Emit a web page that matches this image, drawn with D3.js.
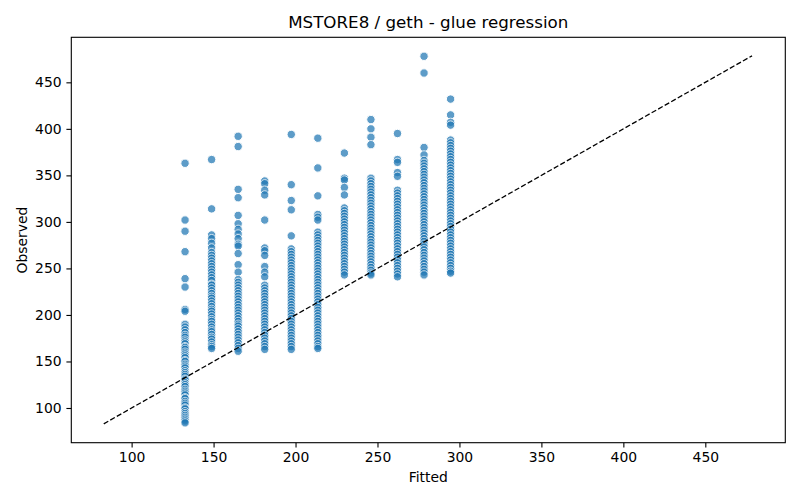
<!DOCTYPE html>
<html>
<head>
<meta charset="utf-8">
<script src="https://cdn.jsdelivr.net/npm/d3@7"></script>
<style>
  body { margin: 0; background: #fff; }
  text { font-family: "DejaVu Sans", sans-serif; fill: #000; }
</style>
</head>
<body>
<svg width="800" height="500"></svg>
<script>
var fitted = [132.6, 148.8, 165.0, 181.2, 197.4, 213.6, 229.8, 246.0, 262.2, 278.4, 294.6];
var observed = [
  [363, 302, 290, 268, 239, 230, 206, 204, 190, 187, 184, 181, 178, 176, 173, 171, 169, 166, 165, 163, 160, 158, 156, 154, 151, 150, 147, 145, 143, 140, 138, 136, 134, 131, 130, 127, 125, 123, 120, 118, 116, 114, 111, 110, 107, 105, 103, 100, 99, 96, 94, 92, 90, 88, 86, 84],
  [367, 314, 286, 282, 277, 272, 267, 264, 261, 258, 255, 252, 249, 246, 243, 240, 237, 233, 232, 229, 226, 223, 220, 218, 215, 212, 209, 206, 204, 201, 198, 195, 193, 190, 187, 184, 182, 179, 176, 174, 171, 168, 166, 164],
  [392, 381, 335, 326, 307, 298, 292, 287, 282, 276, 274, 266, 254, 246, 238, 235, 232, 229, 226, 223, 220, 217, 214, 211, 208, 205, 202, 199, 196, 193, 190, 188, 185, 182, 179, 176, 173, 170, 167, 164, 161],
  [344, 341, 334, 329, 302, 272, 269, 264, 252, 246, 241, 232, 229, 226, 223, 220, 217, 214, 211, 208, 205, 202, 199, 196, 193, 190, 187, 184, 181, 178, 175, 172, 169, 166, 163],
  [394, 340, 323, 313, 285, 271, 268, 265, 262, 259, 256, 253, 250, 247, 244, 241, 238, 235, 232, 229, 226, 223, 220, 217, 214, 211, 208, 205, 202, 199, 196, 193, 190, 187, 184, 181, 178, 175, 172, 169, 166, 163],
  [390, 358, 328, 308, 305, 302, 289, 286, 283, 280, 277, 274, 271, 268, 265, 262, 259, 256, 253, 250, 247, 244, 241, 238, 235, 232, 229, 226, 223, 220, 217, 214, 211, 208, 205, 202, 199, 196, 193, 190, 187, 184, 181, 178, 175, 172, 169, 166, 164],
  [374, 347, 345, 337, 329, 315, 312, 309, 306, 303, 300, 297, 294, 291, 288, 285, 282, 279, 276, 273, 270, 267, 264, 261, 258, 255, 252, 249, 246, 243],
  [410, 400, 391, 383, 347, 344, 341, 338, 335, 332, 329, 326, 323, 320, 317, 314, 311, 308, 305, 302, 299, 296, 293, 290, 287, 284, 281, 278, 275, 272, 269, 266, 263, 260, 257, 254, 251, 248, 245, 243],
  [395, 367, 364, 353, 349, 334, 331, 328, 325, 322, 319, 316, 313, 310, 307, 304, 301, 298, 295, 292, 289, 286, 283, 280, 277, 274, 271, 268, 265, 262, 259, 256, 253, 250, 247, 244, 241],
  [478, 460, 380, 372, 366, 363, 360, 357, 354, 351, 348, 345, 342, 339, 336, 333, 330, 327, 324, 321, 318, 315, 312, 309, 306, 303, 300, 297, 294, 291, 288, 285, 282, 279, 276, 273, 270, 267, 264, 261, 258, 255, 252, 249, 246, 243],
  [432, 415, 407, 404, 388, 385, 382, 379, 376, 373, 370, 367, 364, 361, 358, 355, 352, 349, 346, 343, 340, 337, 334, 331, 328, 325, 322, 319, 316, 313, 310, 307, 304, 301, 298, 295, 292, 289, 286, 283, 280, 277, 274, 271, 268, 265, 262, 259, 256, 253, 250, 247, 245]
];
var diagLine = [83, 478.5];
var xTicks = [100, 150, 200, 250, 300, 350, 400, 450];
var yTicks = [100, 150, 200, 250, 300, 350, 400, 450];
var title = "MSTORE8 / geth - glue regression";

var svg = d3.select("svg"),
    plotL = 71.3, plotR = 785.3, plotT = 37.3, plotB = 442.7;

var x = d3.scaleLinear().domain([63.2, 498.8]).range([plotL, plotR]);
var y = d3.scaleLinear().domain([62.7, 498.4]).range([plotB, plotT]);

var points = [];
fitted.forEach(function(f, i) {
  observed[i].forEach(function(o) { points.push({f: f, o: o}); });
});

svg.append("g").selectAll("circle").data(points).enter()
  .append("circle")
  .attr("cx", function(d) { return x(d.f); })
  .attr("cy", function(d) { return y(d.o); })
  .attr("r", 4.2)
  .attr("fill", "#1f77b4")
  .attr("stroke", "#fff")
  .attr("stroke-width", 1)
  .attr("opacity", 0.72);

svg.append("line")
  .attr("x1", x(diagLine[0])).attr("y1", y(diagLine[0]))
  .attr("x2", x(diagLine[1])).attr("y2", y(diagLine[1]))
  .attr("stroke", "#000").attr("stroke-width", 1.3)
  .attr("stroke-dasharray", "5.2,2.3");

var xAxis = svg.append("g").attr("transform", "translate(0," + plotB + ")")
  .call(d3.axisBottom(x).tickValues(xTicks).tickSize(4.9).tickPadding(4.8));
var yAxis = svg.append("g").attr("transform", "translate(" + plotL + ",0)")
  .call(d3.axisLeft(y).tickValues(yTicks).tickSize(4.9).tickPadding(4.8));
[xAxis, yAxis].forEach(function(g) {
  g.select(".domain").remove();
  g.selectAll("line").attr("stroke", "#000").attr("stroke-width", 1.1);
  g.selectAll("text").attr("font-size", "13.9px").attr("font-family", "DejaVu Sans");
});

svg.append("rect")
  .attr("x", plotL).attr("y", plotT)
  .attr("width", plotR - plotL).attr("height", plotB - plotT)
  .attr("fill", "none").attr("stroke", "#000").attr("stroke-width", 1.1);

svg.append("text").attr("x", (plotL + plotR) / 2).attr("y", 28)
  .attr("text-anchor", "middle").attr("font-size", "16.7px").text(title);
svg.append("text").attr("x", (plotL + plotR) / 2).attr("y", 482)
  .attr("text-anchor", "middle").attr("font-size", "13.9px").text("Fitted");
svg.append("text").attr("transform", "translate(27," + (plotT + plotB) / 2 + ") rotate(-90)")
  .attr("text-anchor", "middle").attr("font-size", "13.9px").text("Observed");
</script>
</body>
</html>
